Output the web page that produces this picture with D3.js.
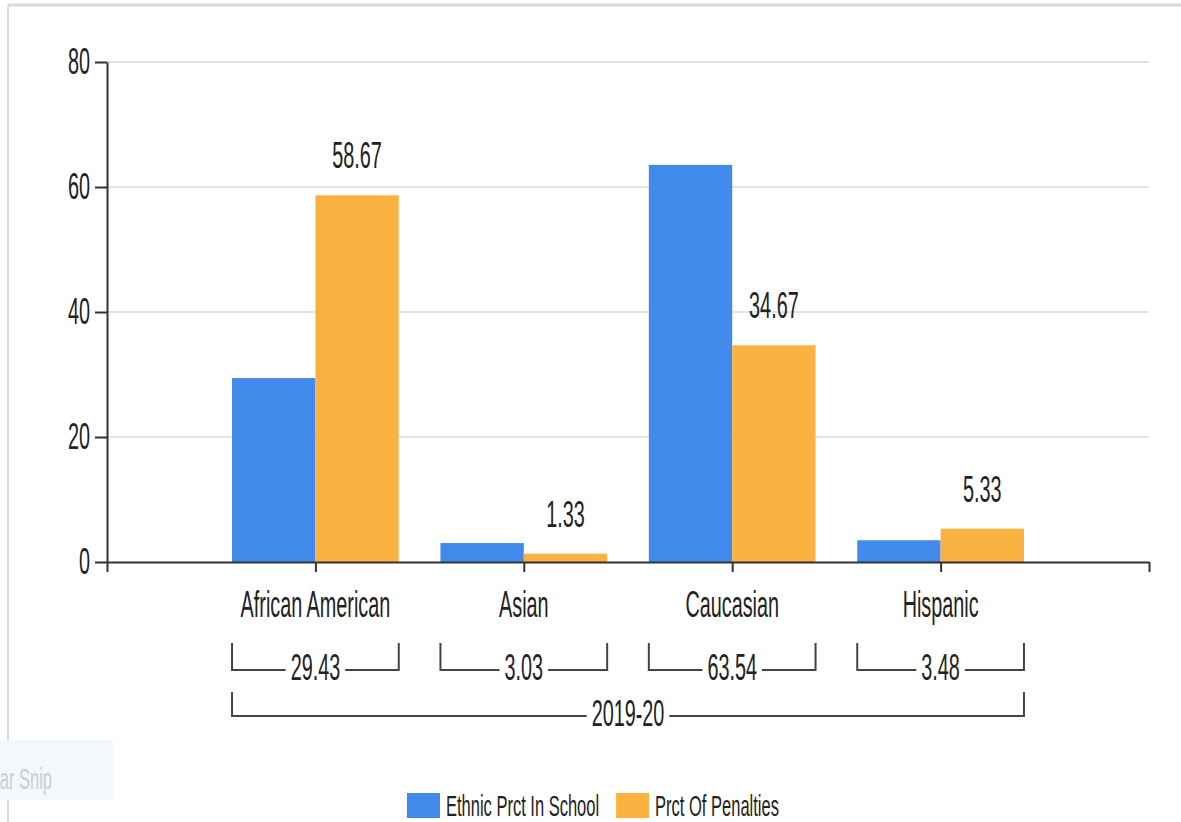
<!DOCTYPE html>
<html>
<head>
<meta charset="utf-8">
<script src="https://cdn.jsdelivr.net/npm/d3@7"></script>
<style>
  body { margin: 0; background: #fff; }
  svg { display: block; }
</style>
</head>
<body>
<div id="chart"></div>
<script>
const categories = ["African American", "Asian", "Caucasian", "Hispanic"];
const ethnicPrct = [29.43, 3.03, 63.54, 3.48];
const penaltyPrct = [58.67, 1.33, 34.67, 5.33];
const yTicks = [0, 20, 40, 60, 80];
const groupLabel = "2019-20";
const seriesNames = ["Ethnic Prct In School", "Prct Of Penalties"];
const colors = ["#4189ea", "#f9b140"];

const width = 1181;
const height = 822;
const sx = 0.55; // the screenshot text is squeezed sideways
const ink = "#222";

const svg = d3
  .select("#chart")
  .append("svg")
  .attr("width", width)
  .attr("height", height)
  .style("font-family", "'Liberation Sans', Arial, sans-serif");

// frame of the screenshot
svg.append("line").attr("x1", 8).attr("x2", width).attr("y1", 5).attr("y2", 5)
  .attr("stroke", "#d9d9d9").attr("stroke-width", 3);
svg.append("line").attr("x1", 8).attr("x2", 8).attr("y1", 5).attr("y2", height)
  .attr("stroke", "#d9d9d9").attr("stroke-width", 2);

const x = d3.scaleLinear().domain([0, categories.length + 1]).range([107, 1149]);
const y = d3.scaleLinear().domain([0, 80]).range([562, 62]);
const barW = (x(1) - x(0)) * 0.4;

function label(g, tx, ty, str, size, anchor) {
  return g
    .append("text")
    .attr("transform", `translate(${tx},${ty}) scale(${sx},1)`)
    .attr("text-anchor", anchor || "middle")
    .attr("font-size", size)
    .attr("fill", ink)
    .text(str);
}

// gridlines
svg.append("g")
  .selectAll("line")
  .data(yTicks.filter((d) => d > 0))
  .join("line")
  .attr("x1", x(0))
  .attr("x2", x(categories.length + 1))
  .attr("y1", (d) => y(d))
  .attr("y2", (d) => y(d))
  .attr("stroke", "#e2e2e2")
  .attr("stroke-width", 2);

// bars
const groups = svg.append("g");
groups.selectAll("rect.ethnic")
  .data(ethnicPrct)
  .join("rect")
  .attr("class", "ethnic")
  .attr("x", (d, i) => x(i + 1) - barW)
  .attr("width", barW)
  .attr("y", (d) => y(d))
  .attr("height", (d) => y(0) - y(d))
  .attr("fill", colors[0]);
groups.selectAll("rect.penalty")
  .data(penaltyPrct)
  .join("rect")
  .attr("class", "penalty")
  .attr("x", (d, i) => x(i + 1))
  .attr("width", barW)
  .attr("y", (d) => y(d))
  .attr("height", (d) => y(0) - y(d))
  .attr("fill", colors[1]);

// value labels above the penalty bars
penaltyPrct.forEach((v, i) => {
  label(svg, x(i + 1) + barW / 2, y(v) - 27, v.toFixed(2), 36);
});

// y axis
const yAxis = svg.append("g")
  .attr("transform", `translate(${x(0)},0)`)
  .call(d3.axisLeft(y).tickValues(yTicks).tickSize(12).tickSizeOuter(0).tickPadding(5));
yAxis.selectAll("path, line").attr("stroke", "#333").attr("stroke-width", 2);
yAxis.selectAll("text")
  .attr("font-size", 36)
  .attr("font-family", "'Liberation Sans', Arial, sans-serif")
  .attr("fill", ink)
  .attr("x", -17 / sx)
  .attr("transform", `scale(${sx},1)`);

// x axis
const xAxis = svg.append("g")
  .attr("transform", `translate(0,${y(0)})`)
  .call(d3.axisBottom(x).tickValues(d3.range(0, categories.length + 2)).tickSize(10).tickSizeOuter(0).tickFormat(""));
xAxis.selectAll("path, line").attr("stroke", "#333").attr("stroke-width", 2);

categories.forEach((c, i) => {
  label(svg, x(i + 1), 617, c, 36);
});

// bracket rows under the axis
function bracket(x0, x1, top, bottom, text, baseline) {
  const t = label(svg, (x0 + x1) / 2, baseline, text, 36);
  const w = t.node().getComputedTextLength() * sx;
  const cx = (x0 + x1) / 2;
  svg.append("path")
    .attr("d", `M${x0},${top}V${bottom}H${cx - w / 2 - 5}M${cx + w / 2 + 5},${bottom}H${x1}V${top}`)
    .attr("fill", "none")
    .attr("stroke", "#444")
    .attr("stroke-width", 2);
}
ethnicPrct.forEach((v, i) => {
  bracket(x(i + 1) - barW, x(i + 1) + barW, 643, 670, v.toFixed(2), 680);
});
bracket(x(1) - barW, x(categories.length) + barW, 692, 716, groupLabel, 726);

// legend
let lx = 407;
seriesNames.forEach((name, i) => {
  svg.append("rect").attr("x", lx).attr("y", 793).attr("width", 33).attr("height", 25).attr("fill", colors[i]);
  const t = label(svg, lx + 39, 816, name, 30, "start");
  lx += 39 + t.node().getComputedTextLength() * sx + 17;
});

// faint screen-snip overlay left in the screenshot
svg.append("rect").attr("x", 0).attr("y", 740).attr("width", 113).attr("height", 60).attr("fill", "#f4f8fc");
label(svg, 52, 789, "ar Snip", 30, "end").attr("fill", "#c9cdd3");
</script>
</body>
</html>
